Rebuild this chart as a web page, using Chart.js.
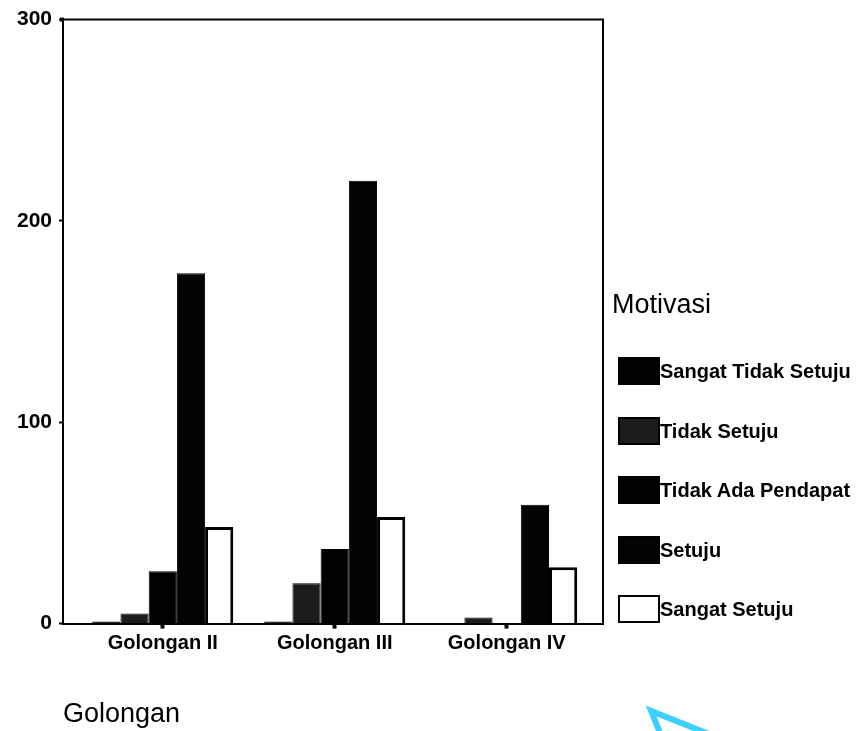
<!DOCTYPE html>
<html>
<head>
<meta charset="utf-8">
<script src="https://cdn.jsdelivr.net/npm/chart.js@4"></script>
<style>
html,body{margin:0;padding:0;background:#fff;}
#wrap{position:relative;width:858px;height:731px;overflow:hidden;}
#c{position:absolute;left:0;top:0;}
#legend{position:absolute;left:0;top:0;width:858px;height:731px;pointer-events:none;font-family:"Liberation Sans",Arial,sans-serif;color:#000;}
#legend .title{position:absolute;left:612px;top:288px;font-size:27px;line-height:32px;white-space:nowrap;}
#legend .box{position:absolute;left:618px;width:42px;height:28px;box-sizing:border-box;border:2px solid #000;}
#legend .lbl{position:absolute;left:660px;font-size:20px;font-weight:bold;line-height:28px;white-space:nowrap;}
</style>
</head>
<body>
<div id="wrap">
<canvas id="c" width="858" height="731"></canvas>
<div id="legend"></div>
</div>
<script>
// ---- data ----
const categories = ["Golongan II", "Golongan III", "Golongan IV"];
const seriesNames = ["Sangat Tidak Setuju", "Tidak Setuju", "Tidak Ada Pendapat", "Setuju", "Sangat Setuju"];
const sangatTidakSetuju = [1, 1, 0];
const tidakSetuju = [5, 20, 3];
const tidakAdaPendapat = [26, 37, 0];
const setuju = [174, 220, 59];
const sangatSetuju = [48, 53, 28];
const yTicks = [0, 100, 200, 300];
const legendTitle = "Motivasi";
const xTitle = "Golongan";

// ---- styles ----
const seriesColors = ["#000000", "#1c1c1c", "#000000", "#030303", "#ffffff"];
const seriesBorders = [1, 1, 1, 1, 3];
const FONT = '"Liberation Sans", Arial, sans-serif';

const seriesValues = [sangatTidakSetuju, tidakSetuju, tidakAdaPendapat, setuju, sangatSetuju];

const datasets = seriesNames.map((name, s) => ({
  label: name,
  data: seriesValues[s].map((v, i) => ({ x: i, y: v })),
  backgroundColor: seriesColors[s],
  borderColor: "#000000",
  borderWidth: seriesBorders[s],
  categoryPercentage: 0.82,
  barPercentage: 1.0
}));

const framePlugin = {
  id: "frame",
  afterDraw(chart) {
    const { ctx, chartArea: a } = chart;
    ctx.save();
    ctx.strokeStyle = "#000";
    ctx.lineWidth = 2;
    ctx.beginPath();
    ctx.moveTo(a.left, a.top);
    ctx.lineTo(a.right, a.top);
    ctx.lineTo(a.right, a.bottom);
    ctx.stroke();
    ctx.fillStyle = "#000";
    ctx.fillRect(a.left - 3, a.top - 2, 4, 4);
    // cyan annotation stroke at the bottom right (screen artifact in reference)
    ctx.strokeStyle = "rgb(60,208,255)";
    ctx.lineWidth = 6;
    ctx.beginPath();
    ctx.moveTo(663, 740);
    ctx.lineTo(651, 711);
    ctx.lineTo(724, 740);
    ctx.stroke();
    ctx.restore();
  }
};

new Chart(document.getElementById("c"), {
  type: "bar",
  data: { datasets },
  options: {
    responsive: false,
    animation: false,
    devicePixelRatio: 1,
    layout: { padding: { left: 10, top: 18, right: 255, bottom: 0 } },
    plugins: { legend: { display: false }, tooltip: { enabled: false } },
    scales: {
      x: {
        type: "linear",
        min: -0.58,
        max: 2.56,
        offset: false,
        grid: { display: true, offset: false, drawOnChartArea: false, tickLength: 5, tickWidth: 4, tickColor: "#000" },
        border: { display: true, color: "#000", width: 2 },
        ticks: {
          stepSize: 1,
          includeBounds: false,
          autoSkip: false,
          maxRotation: 0,
          padding: 3,
          color: "#000",
          font: { family: FONT, size: 20, weight: "bold" },
          callback: (v) => (Number.isInteger(v) && categories[v] !== undefined ? categories[v] : "")
        },
        title: {
          display: true,
          text: xTitle,
          align: "start",
          color: "#000",
          font: { family: FONT, size: 27 },
          padding: { top: 40, bottom: 0 }
        }
      },
      y: {
        min: yTicks[0],
        max: yTicks[yTicks.length - 1],
        grid: { display: true, drawOnChartArea: false, tickLength: 4, tickWidth: 2, tickColor: "#000" },
        border: { display: true, color: "#000", width: 2 },
        afterBuildTicks: (scale) => { scale.ticks = yTicks.map((v) => ({ value: v })); },
        ticks: {
          padding: 7,
          color: "#000",
          font: { family: FONT, size: 21, weight: "bold" }
        }
      }
    }
  },
  plugins: [framePlugin]
});

// ---- legend (HTML, built from the series arrays) ----
const lg = document.getElementById("legend");
const t = document.createElement("div");
t.className = "title";
t.textContent = legendTitle;
lg.appendChild(t);
seriesNames.forEach((name, s) => {
  const top = 357 + s * 59.5;
  const b = document.createElement("div");
  b.className = "box";
  b.style.top = top + "px";
  b.style.background = seriesColors[s];
  lg.appendChild(b);
  const l = document.createElement("div");
  l.className = "lbl";
  l.style.top = top + "px";
  l.textContent = name;
  lg.appendChild(l);
});
</script>
</body>
</html>
